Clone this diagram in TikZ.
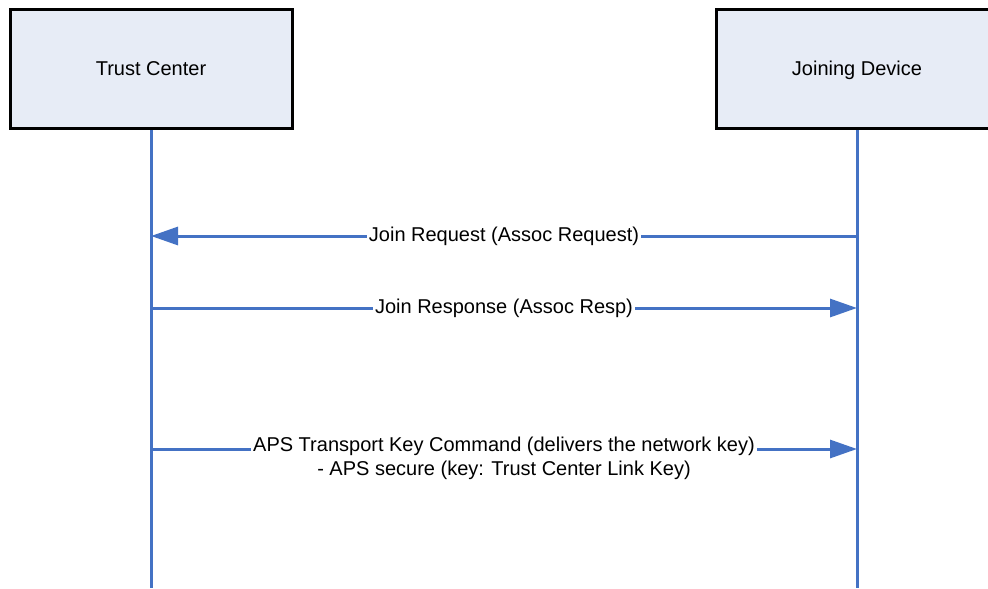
\documentclass[tikz,border=0pt]{standalone}
\usepackage{fontspec}
\setmainfont{Liberation Sans}
\usetikzlibrary{arrows.meta}
\definecolor{lif}{RGB}{68, 114, 196}
\definecolor{actfill}{RGB}{231, 236, 246}

\begin{document}
\begin{tikzpicture}[x=0.5pt, y=-0.5pt,
    actor/.style={draw=black, line width=1.5pt, fill=actfill, minimum width=141pt, minimum height=59.5pt, text height=6.5pt, text depth=0pt, font=\fontsize{10}{12}\selectfont},
    life/.style={color=lif, line width=1.5pt},
    msg/.style={color=lif, line width=1.5pt, -{Triangle[length=13.5pt, width=9pt]}},
    lbl/.style={fill=white, text=black, inner xsep=1pt, inner ysep=1pt, font=\fontsize{10}{12}\selectfont}]
      \useasboundingbox (0, 0) rectangle (988, 588);
      \clip (0, 0) rectangle (988, 588);
      % participants
      \node[actor] (tc) at (151, 69.5) {Trust Center};
      \node[actor] (jd) at (857, 69.5) {Joining Device};
      \coordinate (tcEnd) at (151, 588);
      \coordinate (jdEnd) at (857, 588);
      \draw[life] (tc.south)--(tcEnd);
      \draw[life] (jd.south)--(jdEnd);
      % message points
      \coordinate (tcA) at (151, 236);
      \coordinate (jdA) at (857, 236);
      \coordinate (tcB) at (151, 308);
      \coordinate (jdB) at (857, 308);
      \coordinate (tcC) at (151, 449);
      \coordinate (jdC) at (857, 449);
      % messages
      \draw[msg] (jdA)--node[lbl] {Join Request (Assoc Request)} (tcA);
      \draw[msg] (tcB)--node[lbl] {Join Response (Assoc Resp)} (jdB);
      \draw[msg] (tcC)--node[lbl, anchor=north, yshift=7.8pt, align=center] {APS Transport Key Command (delivers the network key)\\- APS secure (key: Trust Center Link Key)} (jdC);
    \end{tikzpicture}
\end{document}
